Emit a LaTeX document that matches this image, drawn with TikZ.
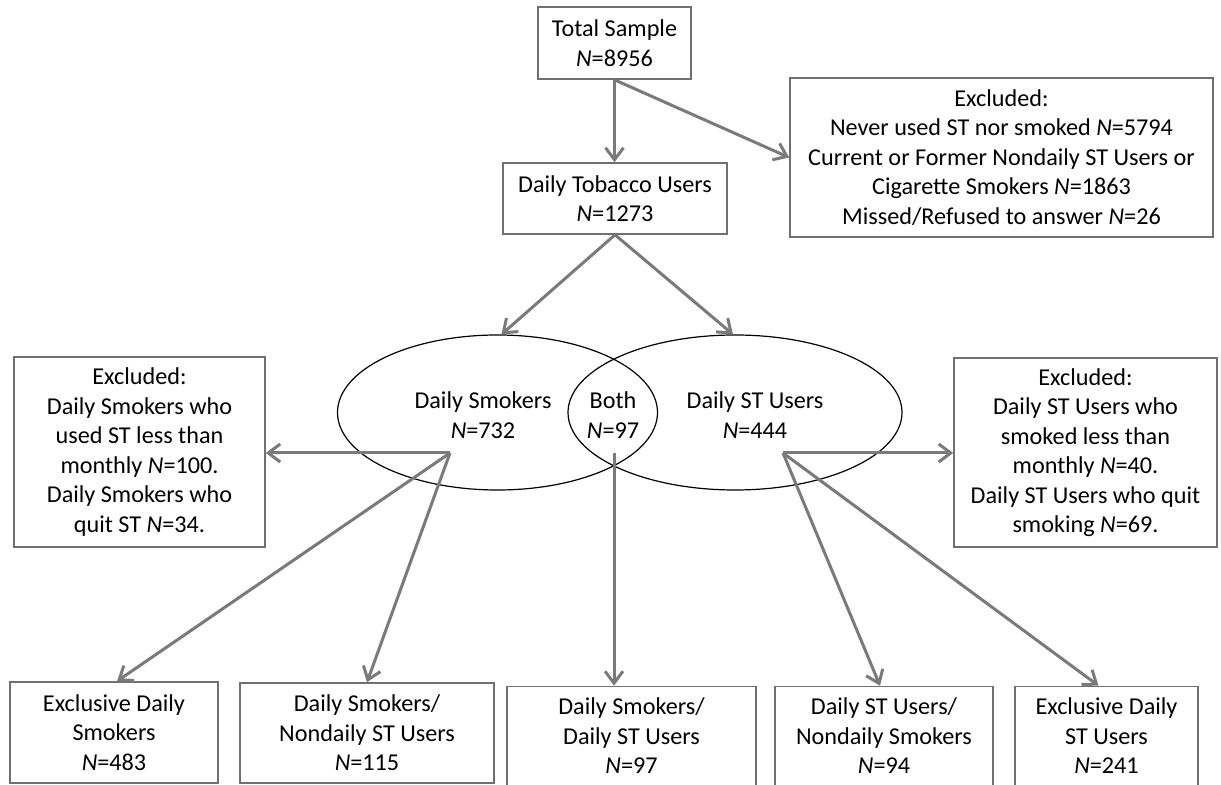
\documentclass[tikz,border=0pt]{standalone}
\usepackage{fontspec}
\setmainfont{Carlito}
\usetikzlibrary{arrows.meta,shapes.geometric}
\definecolor{arrowgray}{HTML}{7A7A7A}
\definecolor{boxgray}{HTML}{707070}
\begin{document}
\begin{tikzpicture}[x=0.5pt,y=-0.5pt,
  font=\fontsize{12.1}{14.75}\selectfont,
  box/.style={draw=boxgray,line width=0.8pt,rectangle,align=center,inner sep=0pt},
  ell/.style={draw=black,line width=0.6pt,ellipse,inner sep=0pt},
  lbl/.style={align=center,inner sep=0pt},
  arr/.style={draw=arrowgray,line width=1.5pt,-{Straight Barb[length=6pt,width=9pt,line width=1.5pt]}}]
\useasboundingbox (0,0) rectangle (1221,785);
\fill[white] (0,0) rectangle (1221,785);

\node[box,minimum width=76.5pt,minimum height=36pt] (total) at (614.5,43) {Total Sample\\\textit{N}=8956};
\node[box,minimum width=112pt,minimum height=35.5pt] (tob) at (615,198.5) {Daily Tobacco Users\\\textit{N}=1273};
\node[box,minimum width=211.5pt,minimum height=79.5pt] (ex1) at (1001.5,157.5) {Excluded:\\Never used ST nor smoked \textit{N}=5794\\Current or Former Nondaily ST Users or\\Cigarette Smokers \textit{N}=1863\\Missed/Refused to answer \textit{N}=26};

\node[ell,minimum width=160pt,minimum height=77.5pt] (ellL) at (497.5,412.5) {};
\node[ell,minimum width=167pt,minimum height=77.5pt] (ellR) at (735,412.5) {};
\node[lbl] (lblL) at (483,415) {Daily Smokers\\\textit{N}=732};
\node[lbl] (lblB) at (613,415) {Both\\\textit{N}=97};
\node[lbl] (lblR) at (755,415) {Daily ST Users\\\textit{N}=444};

\node[box,minimum width=125.5pt,minimum height=95pt] (exL) at (139.5,452) {Excluded:\\Daily Smokers who\\used ST less than\\monthly \textit{N}=100.\\Daily Smokers who\\quit ST \textit{N}=34.};
\node[box,minimum width=131.5pt,minimum height=94.5pt] (exR) at (1085.5,452.5) {Excluded:\\Daily ST Users who\\smoked less than\\monthly \textit{N}=40.\\Daily ST Users who quit\\smoking \textit{N}=69.};

\node[box,minimum width=104pt,minimum height=50.5pt] (b1) at (114,732.5) {Exclusive Daily\\Smokers\\\textit{N}=483};
\node[box,minimum width=127pt,minimum height=50pt] (b2) at (367,733) {Daily Smokers/\\Nondaily ST Users\\\textit{N}=115};
\node[box,minimum width=124.5pt,minimum height=49.5pt] (b3) at (631.5,736) {Daily Smokers/\\Daily ST Users\\\textit{N}=97};
\node[box,minimum width=109pt,minimum height=49.5pt] (b4) at (884,736) {Daily ST Users/\\Nondaily Smokers\\\textit{N}=94};
\node[box,minimum width=91.5pt,minimum height=49.5pt] (b5) at (1106.5,736) {Exclusive Daily\\ST Users\\\textit{N}=241};

\coordinate (jL) at (450,453);
\coordinate (jB) at (614,453);
\coordinate (jR) at (783,453);

\draw[arr] (total.south) -- (total.south |- tob.north);
\draw[arr] (total.south) -- (ex1.west);
\draw[arr] (tob.south) -- ([xshift=2pt]ellL.north);
\draw[arr] (tob.south) -- ([xshift=-1pt]ellR.north);
\draw[arr] (jL) -- (jL -| exL.east);
\draw[arr] (jL) -- ([xshift=1.5pt]b1.north);
\draw[arr] (jL) -- (b2.north);
\draw[arr] (jB) -- (jB |- b3.north);
\draw[arr] (jR) -- (jR -| exR.west);
\draw[arr] (jR) -- ([xshift=-2pt]b4.north);
\draw[arr] (jR) -- ([xshift=-4pt]b5.north);
\end{tikzpicture}
\end{document}
